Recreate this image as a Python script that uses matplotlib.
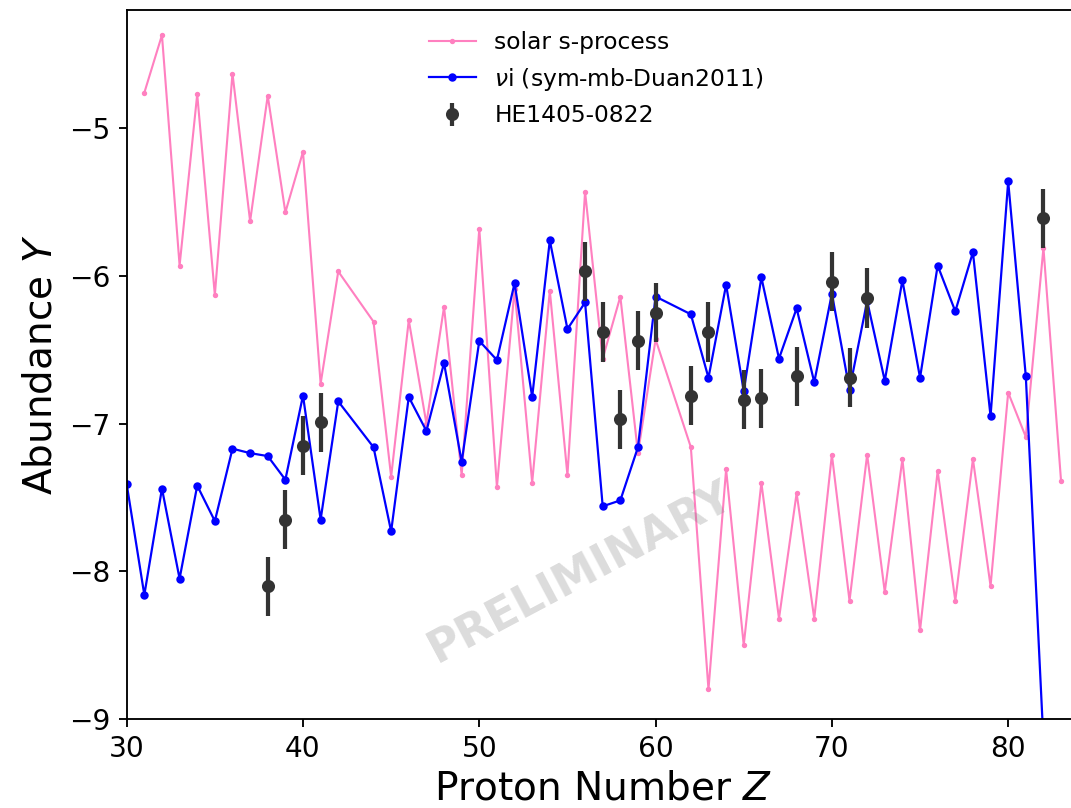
import matplotlib
matplotlib.use("Agg")
import matplotlib.pyplot as plt
import numpy as np

# solar s-process
solar_Z = [31, 32, 33, 34, 35, 36, 37, 38, 39, 40, 41, 42,
           44, 45, 46, 47, 48, 49, 50, 51, 52, 53, 54, 55, 56, 57, 58, 59, 60,
           62, 63, 64, 65, 66, 67, 68, 69, 70, 71, 72, 73, 74, 75, 76, 77, 78,
           79, 80, 81, 82, 83]
solar_Y = [-4.76, -4.37, -5.93, -4.77, -6.13, -4.63, -5.63, -4.78, -5.57, -5.16, -6.73, -5.97,
           -6.31, -7.36, -6.30, -7.00, -6.21, -7.35, -5.68, -7.43, -6.09, -7.40, -6.10, -7.35,
           -5.43, -6.56, -6.14, -7.20, -6.43,
           -7.16, -8.80, -7.31, -8.50, -7.40, -8.32, -7.47, -8.32, -7.21, -8.20, -7.21, -8.14,
           -7.24, -8.40, -7.32, -8.20, -7.24, -8.10, -6.79, -7.09, -5.81, -7.39]

# nu-i model
nui_Z = [30, 31, 32, 33, 34, 35, 36, 37, 38, 39, 40, 41, 42,
         44, 45, 46, 47, 48, 49, 50, 51, 52, 53, 54, 55, 56, 57, 58, 59, 60,
         62, 63, 64, 65, 66, 67, 68, 69, 70, 71, 72, 73, 74, 75, 76, 77, 78,
         79, 80, 81, 82]
nui_Y = [-7.41, -8.16, -7.44, -8.05, -7.42, -7.66, -7.17, -7.20, -7.22, -7.38, -6.81, -7.65, -6.85,
         -7.16, -7.73, -6.82, -7.05, -6.59, -7.26, -6.44, -6.57, -6.05, -6.82, -5.76, -6.36,
         -6.18, -7.56, -7.52, -7.16, -6.14,
         -6.26, -6.69, -6.06, -6.78, -6.01, -6.56, -6.22, -6.72, -6.12, -6.77, -6.17, -6.71,
         -6.03, -6.69, -5.93, -6.24, -5.84, -6.95, -5.36, -6.68, -9.15]

# HE1405-0822 observations
obs_Z = [38, 39, 40, 41, 56, 57, 58, 59, 60, 62, 63, 65, 66, 68, 70, 71, 72, 82]
obs_Y = [-8.10, -7.65, -7.15, -6.99, -5.97, -6.38, -6.97, -6.44, -6.25, -6.81, -6.38,
         -6.84, -6.83, -6.68, -6.04, -6.69, -6.15, -5.61]
obs_err = [0.2] * len(obs_Z)

fig = plt.figure(figsize=(1071 / 168, 808 / 168), dpi=168)
ax = fig.add_axes([126.7 / 1071, 89 / 808, 952 / 1071, 709 / 808])

ax.plot(solar_Z, solar_Y, color='#ff80c0', lw=0.9, marker='o', ms=1.3,
        label='solar s-process')
ax.plot(nui_Z, nui_Y, color='blue', lw=0.95, marker='o', ms=2.6,
        label=r'$\nu$i (sym-mb-Duan2011)')
ax.errorbar(obs_Z, obs_Y, yerr=obs_err, fmt='o', color='#333333', ms=4.6,
            elinewidth=1.8, capsize=0, label='HE1405-0822', zorder=4)

ax.set_xlim(30, 84)
ax.set_ylim(-9, -4.2)
ax.set_xticks([30, 40, 50, 60, 70, 80])
ax.set_yticks([-9, -8, -7, -6, -5])
ax.tick_params(labelsize=12)
ax.set_xlabel(r'Proton Number $Z$', fontsize=16.7, labelpad=2.5)
ax.set_ylabel(r'Abundance $Y$', fontsize=16.7)

ax.text(0.477, 0.207, 'PRELIMINARY', transform=ax.transAxes, fontsize=19,
        fontweight='bold', color='gray', alpha=0.28, rotation=28,
        ha='center', va='center')

ax.legend(loc='upper left', bbox_to_anchor=(0.2955, 1.0), frameon=False,
          fontsize=10)

fig.savefig('out.png', dpi=168)
